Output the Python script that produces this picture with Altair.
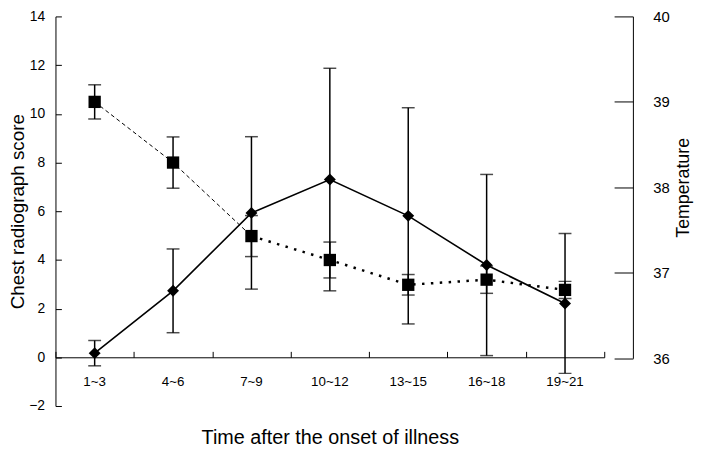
import altair as alt
import pandas as pd

FONT = "Liberation Sans"

periods = ["1~3", "4~6", "7~9", "10~12", "13~15", "16~18", "19~21"]
score_mean = [0.17, 2.73, 5.93, 7.30, 5.81, 3.79, 2.21]
score_err = [0.52, 1.72, 3.13, 4.57, 4.44, 3.72, 2.87]
temp_mean = [39.00, 38.29, 37.43, 37.15, 36.86, 36.92, 36.80]
temp_err = [0.20, 0.30, 0.24, 0.21, 0.12, 0.16, 0.10]
score_ticks = [-2, 0, 2, 4, 6, 8, 10, 12, 14]
temp_ticks = [36, 37, 38, 39, 40]

W, H = 584, 394
XR = 555
zero_px = H * 14 / 16

score_df = pd.DataFrame({
    "period": periods,
    "idx": list(range(len(periods))),
    "score": score_mean,
    "lo": [m - e for m, e in zip(score_mean, score_err)],
    "hi": [m + e for m, e in zip(score_mean, score_err)],
})
temp_df = pd.DataFrame({
    "period": periods,
    "idx": list(range(len(periods))),
    "temp": temp_mean,
    "lo": [m - e for m, e in zip(temp_mean, temp_err)],
    "hi": [m + e for m, e in zip(temp_mean, temp_err)],
})

x_scale = alt.Scale(type="band", domain=periods, range=[0, XR], paddingInner=0, paddingOuter=0)
X = alt.X("period:N", scale=x_scale, axis=None)

score_scale = alt.Scale(domain=[-2, 14], nice=False, zero=False)
temp_scale = alt.Scale(domain=[36, 40], range=[zero_px + 1, 0], nice=False, zero=False)

score_axis = alt.Axis(orient="left", values=score_ticks, ticks=False, tickSize=0, grid=False,
                      labelPadding=11, labelFont=FONT, labelFontSize=14, labelColor="black",
                      domainColor="black", domainWidth=1,
                      title="Chest radiograph score", titleFont=FONT, titleFontSize=19,
                      titleFontWeight="normal", titleColor="black", titlePadding=1)
score_tick_axis = alt.Axis(orient="right", offset=-W, values=score_ticks, ticks=True, tickSize=6,
                           tickColor="black", tickWidth=1, labels=False, domain=False, grid=False, title=None)
temp_axis = alt.Axis(orient="right", values=temp_ticks, ticks=False, tickSize=0, grid=False,
                     labelPadding=20, labelFont=FONT, labelFontSize=15, labelColor="black",
                     domainColor="black", domainWidth=1,
                     title="Temperature", titleFont=FONT, titleFontSize=18, titleAngle=270,
                     titleFontWeight="normal", titleColor="black", titlePadding=24)
temp_tick_axis = alt.Axis(orient="left", offset=-W, values=temp_ticks, ticks=True, tickSize=19,
                          tickColor="black", tickWidth=1, labels=False, domain=False, grid=False, title=None)

bs = alt.Chart(score_df)
s_line = bs.mark_line(color="black", strokeWidth=1.6).encode(
    x=X, y=alt.Y("score:Q", scale=score_scale, axis=score_axis))
s_rule = bs.mark_rule(color="black", strokeWidth=1.5).encode(
    x=X, y=alt.Y("lo:Q", scale=score_scale, axis=None), y2="hi:Q")
s_cap_lo = bs.mark_tick(color="black", size=13, thickness=1.5).encode(
    x=X, y=alt.Y("lo:Q", scale=score_scale, axis=None))
s_cap_hi = bs.mark_tick(color="black", size=13, thickness=1.5).encode(
    x=X, y=alt.Y("hi:Q", scale=score_scale, axis=None))
s_pts = bs.mark_point(shape="diamond", filled=True, size=145, color="black", opacity=1).encode(
    x=X, y=alt.Y("score:Q", scale=score_scale, axis=None))
s_axis2 = bs.mark_point(opacity=0).encode(
    y=alt.Y("score:Q", scale=score_scale, axis=score_tick_axis))
score_group = alt.layer(s_line, s_rule, s_cap_lo, s_cap_hi, s_pts, s_axis2).resolve_axis(y="independent")

bt = alt.Chart(temp_df)
t_line1 = bt.mark_line(color="black", strokeWidth=1, strokeDash=[4, 3]).encode(
    x=X, y=alt.Y("temp:Q", scale=temp_scale, axis=temp_axis)).transform_filter("datum.idx <= 2")
t_line2 = bt.mark_line(color="black", strokeWidth=2.5, strokeDash=[2.5, 6.5]).encode(
    x=X, y=alt.Y("temp:Q", scale=temp_scale, axis=None)).transform_filter("datum.idx >= 2")
t_rule = bt.mark_rule(color="black", strokeWidth=1.5).encode(
    x=X, y=alt.Y("lo:Q", scale=temp_scale, axis=None), y2="hi:Q")
t_cap_lo = bt.mark_tick(color="black", size=13, thickness=1.5).encode(
    x=X, y=alt.Y("lo:Q", scale=temp_scale, axis=None))
t_cap_hi = bt.mark_tick(color="black", size=13, thickness=1.5).encode(
    x=X, y=alt.Y("hi:Q", scale=temp_scale, axis=None))
t_pts = bt.mark_point(shape="square", filled=True, size=155, color="black", opacity=1).encode(
    x=X, y=alt.Y("temp:Q", scale=temp_scale, axis=None))
t_axis2 = bt.mark_point(opacity=0).encode(
    y=alt.Y("temp:Q", scale=temp_scale, axis=temp_tick_axis))
temp_group = alt.layer(t_line1, t_line2, t_rule, t_cap_lo, t_cap_hi, t_pts, t_axis2).resolve_axis(y="independent")

x_tick_axis = alt.Axis(orient="top", offset=-zero_px, tickBand="extent", ticks=True, tickSize=6,
                       tickColor="black", tickWidth=1, labels=False, domain=True, domainColor="black",
                       domainWidth=1, grid=False, title=None)
x_label_axis = alt.Axis(orient="bottom", offset=-(H - zero_px), ticks=False, tickSize=0, domain=False,
                        grid=False, labelAngle=0, labelPadding=18, labelFont=FONT, labelFontSize=13.5,
                        labelColor="black",
                        title="Time after the onset of illness", titleFont=FONT, titleFontSize=20,
                        titleFontWeight="normal", titleColor="black", titlePadding=40)
x_ticks_layer = bs.mark_point(opacity=0).encode(x=alt.X("period:N", scale=x_scale, axis=x_tick_axis))
x_labels_layer = bs.mark_point(opacity=0).encode(x=alt.X("period:N", scale=x_scale, axis=x_label_axis))

chart = alt.layer(score_group, temp_group, x_ticks_layer, x_labels_layer).resolve_scale(
    y="independent").resolve_axis(x="independent", y="independent").properties(
    width=W, height=H,
    padding={"left": 48, "top": 6, "right": 80, "bottom": 43},
    autosize=alt.AutoSizeParams(type="none"),
    background="white",
).configure_view(stroke=None)

chart.save("out.html", embed_options={"renderer": "svg", "actions": False})
